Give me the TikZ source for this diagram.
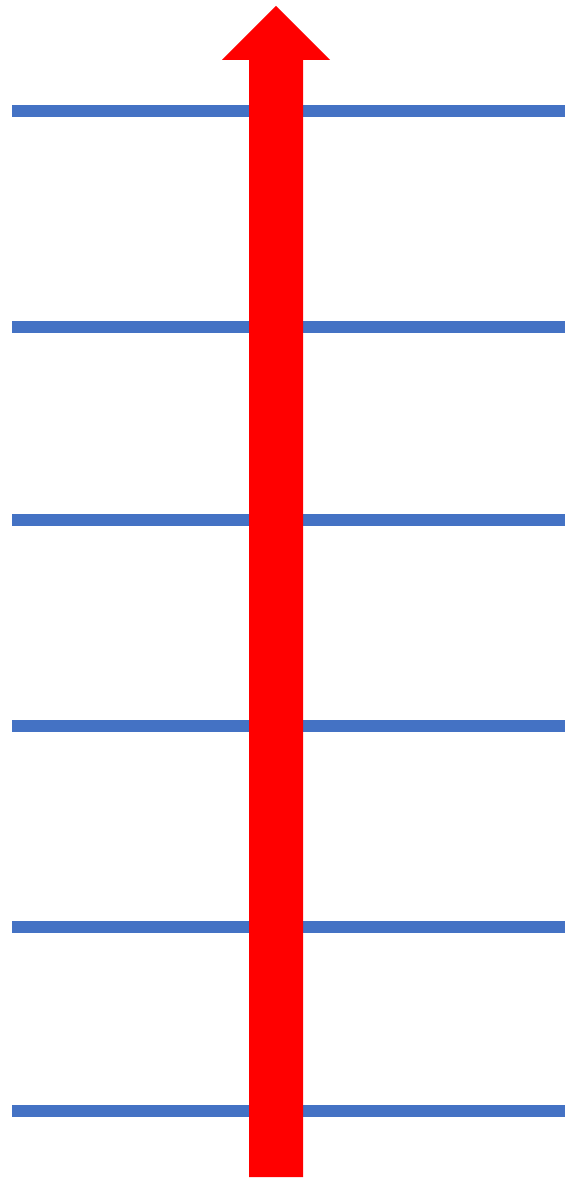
\documentclass[tikz,border=0pt]{standalone}
\usepackage{tikz}
\usepackage{xcolor}
\definecolor{mBlue}{HTML}{4472C4}
\definecolor{mRed}{HTML}{FF0000}

\begin{document}
\begin{tikzpicture}[
  x=0.02cm, y=-0.02cm,
  rung/.style={draw=mBlue, line width=0.24cm},
  bigarrow/.style={fill=mRed, draw=none},
]
  \useasboundingbox (0,0) rectangle (565,1182);
  % horizontal lines
  \foreach \yy in {111,327,520,726,927,1111}
    \draw[rung] (12,\yy) -- (565,\yy);
  % upward arrow
  \fill[bigarrow] (249,1177) -- (249,60) -- (222,60) -- (276,6)
    -- (330,60) -- (303,60) -- (303,1177) -- cycle;
\end{tikzpicture}
\end{document}
